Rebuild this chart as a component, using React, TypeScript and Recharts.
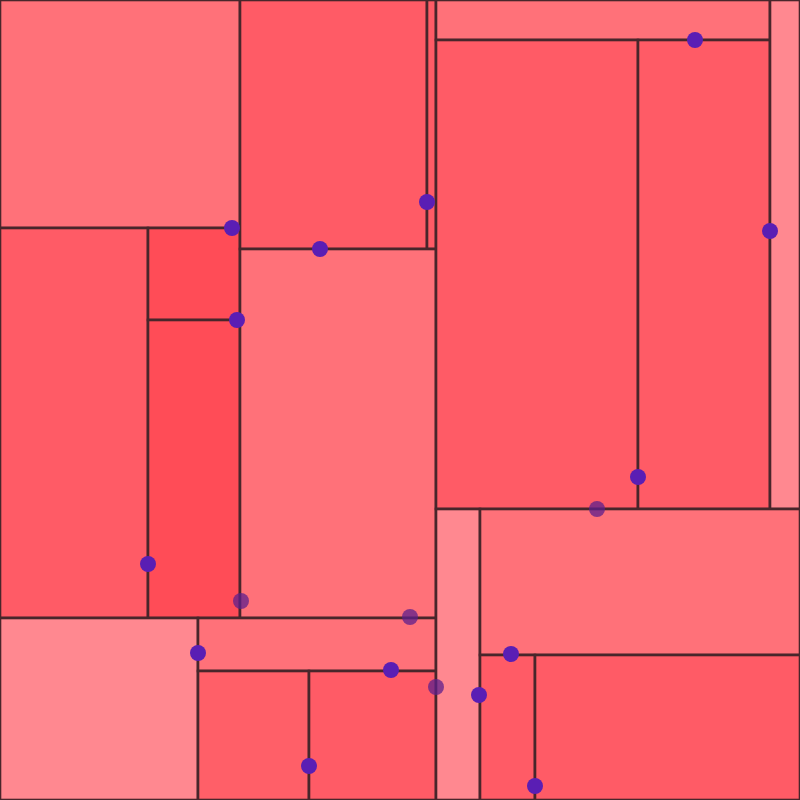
import React from 'react';
import { Treemap, ScatterChart, Scatter, XAxis, YAxis } from 'recharts';

// cell sizes, one small list per block of the map
const upperLeft = [
  { name: 'A', value: 547 },
  { name: 'D', value: 577 },
  { name: 'E', value: 85 },
  { name: 'F', value: 274 },
];
const upperMiddle = [
  { name: 'B', value: 466 },
  { name: 'C', value: 22 },
  { name: 'G', value: 723 },
];
const lowerLeft = [
  { name: 'H', value: 360 },
  { name: 'I', value: 126 },
  { name: 'J', value: 143 },
  { name: 'K', value: 164 },
];
const upperRight = [
  { name: 'L', value: 134 },
  { name: 'M', value: 947 },
  { name: 'N', value: 619 },
  { name: 'O', value: 153 },
];
const lowerRight = [
  { name: 'P', value: 128 },
  { name: 'Q', value: 467 },
  { name: 'R', value: 80 },
  { name: 'S', value: 384 },
];

// markers sitting on the cell borders
const markers = [
  { x: 232, y: 228 },
  { x: 320, y: 249 },
  { x: 427, y: 202 },
  { x: 237, y: 320 },
  { x: 148, y: 564 },
  { x: 198, y: 653 },
  { x: 391, y: 670 },
  { x: 309, y: 766 },
  { x: 479, y: 695 },
  { x: 511, y: 654 },
  { x: 535, y: 786 },
  { x: 638, y: 477 },
  { x: 695, y: 40 },
  { x: 770, y: 231 },
];
const fadedMarkers = [
  { x: 241, y: 601 },
  { x: 410, y: 617 },
  { x: 436, y: 687 },
  { x: 597, y: 509 },
];

const shades: Record<string, string> = {
  A: '#ff7179', G: '#ff7179', I: '#ff7179', L: '#ff7179', Q: '#ff7179',
  B: '#ff5b66', C: '#ff5b66', D: '#ff5b66', J: '#ff5f68', K: '#ff5b66',
  M: '#ff5b66', N: '#ff5b66', R: '#ff5b66', S: '#ff5b66',
  E: '#ff4c57', F: '#ff4c57',
  H: '#ff8890', O: '#ff8890', P: '#ff8890',
};

const [A, D, E, F] = upperLeft;
const [B, C, G] = upperMiddle;
const [H, I, J, K] = lowerLeft;
const [L, M, N, O] = upperRight;
const [P, Q, R, S] = lowerRight;

// empty cell: placed first it keeps the rest of the group in one row,
// placed between two cells it starts a new row
const gap = { name: '', value: 0 };
const group = (...children: any[]) => ({ children });

const treeData = [
  group(
    group(
      group(A, group(D, group(E, F))),
      group(group(gap, B, C), G),
    ),
    group(H, group(I, group(J, gap, K))),
  ),
  group(
    group(gap, group(L, gap, group(M, N)), O),
    group(P, gap, group(Q, group(R, S))),
  ),
];

const TreemapCell = (props: any) => {
  const { x, y, width, height, name, children } = props;
  if ((children && children.length) || !width || !height) return null;
  return (
    <rect
      x={x}
      y={y}
      width={width}
      height={height}
      fill={shades[name]}
      stroke="#48262b"
      strokeWidth={2.6}
    />
  );
};

const Dot = (props: any) => <circle cx={props.cx} cy={props.cy} r={8} fill={props.fill} fillOpacity={props.fillOpacity} />;

export default function App() {
  return (
    <div style={{ position: 'fixed', left: 0, top: 0, width: 800, height: 800 }}>
      <Treemap
        width={800}
        height={800}
        data={treeData}
        dataKey="value"
        aspectRatio={2.15}
        isAnimationActive={false}
        content={<TreemapCell />}
      />
      <div style={{ position: 'absolute', left: 0, top: 0 }}>
        <ScatterChart width={800} height={800} margin={{ top: 0, right: 0, bottom: 0, left: 0 }}>
          <XAxis type="number" dataKey="x" domain={[0, 800]} hide />
          <YAxis type="number" dataKey="y" domain={[0, 800]} reversed hide />
          <Scatter data={fadedMarkers} fill="#5e1f8c" fillOpacity={0.75} shape={<Dot />} isAnimationActive={false} />
          <Scatter data={markers} fill="#5a1eb4" shape={<Dot />} isAnimationActive={false} />
        </ScatterChart>
      </div>
    </div>
  );
}
